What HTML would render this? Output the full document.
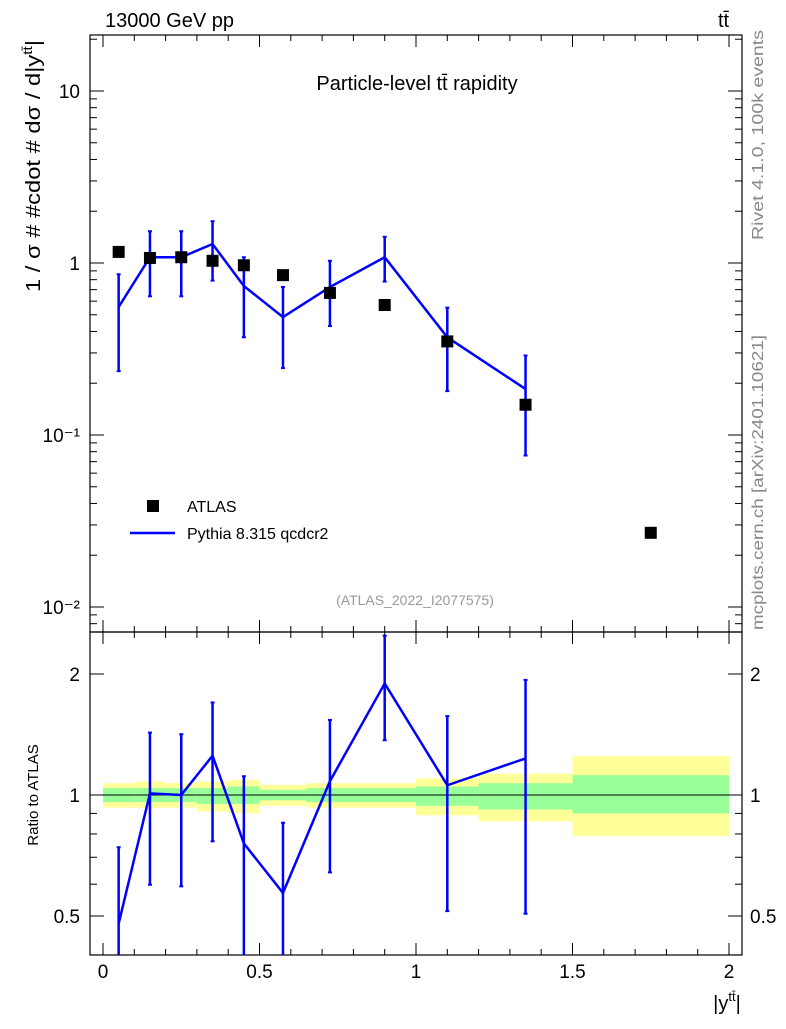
<!DOCTYPE html>
<html><head><meta charset="utf-8"><style>
body{margin:0;background:#fff}
svg{font-family:"Liberation Sans",sans-serif}
</style></head><body>
<svg id="c" width="786" height="1024" xmlns="http://www.w3.org/2000/svg">
<rect width="786" height="1024" fill="#fff"/>
<g id="bands"></g>
<g id="axes"></g>
<g id="marks"></g>
<text x="105" y="27" font-size="20">13000 GeV pp</text>
<text x="718" y="27" font-size="20">tt̄</text>
<text x="417" y="90" font-size="20" text-anchor="middle">Particle-level tt̄ rapidity</text>
<text transform="translate(40,40) rotate(-90)" font-size="20" text-anchor="end" textLength="252" lengthAdjust="spacingAndGlyphs">1 / σ # #cdot # dσ / d|y<tspan font-size="13" dy="-8">tt̄</tspan><tspan dy="8">|</tspan></text>
<text transform="translate(38,795) rotate(-90)" font-size="15" text-anchor="middle">Ratio to ATLAS</text>
<text transform="translate(763,240) rotate(-90)" font-size="16" fill="#888" textLength="210" lengthAdjust="spacingAndGlyphs">Rivet 4.1.0,  100k events</text>
<text transform="translate(763,630) rotate(-90)" font-size="16" fill="#888" textLength="295" lengthAdjust="spacingAndGlyphs">mcplots.cern.ch [arXiv:2401.10621]</text>
<text x="415" y="605" font-size="14" fill="#999" text-anchor="middle">(ATLAS_2022_I2077575)</text>
<rect x="147" y="500" width="12" height="12" fill="#000"/>
<text x="187" y="512" font-size="16">ATLAS</text>
<line x1="130" y1="533" x2="175" y2="533" stroke="#00f" stroke-width="2.5"/>
<text x="187" y="539" font-size="16">Pythia 8.315 qcdcr2</text>
<text x="727" y="1010" font-size="20" text-anchor="middle">|y<tspan font-size="13" dy="-9">tt̄</tspan><tspan dy="9">|</tspan></text>
</svg>
<script>
const centers=[0.05,0.15,0.25,0.35,0.45,0.575,0.725,0.9,1.1,1.35,1.75];
const atlas=[1.16,1.07,1.08,1.03,0.97,0.85,0.67,0.57,0.35,0.15,0.027];
const pyX=[0.05,0.15,0.25,0.35,0.45,0.575,0.725,0.9,1.1,1.35];
const pythia=[0.555,1.08,1.08,1.29,0.735,0.485,0.725,1.08,0.37,0.185];
const pyHi=[0.86,1.53,1.53,1.75,1.08,0.725,1.03,1.42,0.55,0.29];
const pyLo=[0.235,0.64,0.64,0.79,0.37,0.245,0.43,0.78,0.18,0.076];
const binEdges=[0,0.1,0.2,0.3,0.4,0.5,0.65,0.8,1.0,1.2,1.5,2.0];
const yelHi=[1.07,1.08,1.07,1.08,1.09,1.06,1.07,1.07,1.1,1.13,1.25];
const yelLo=[0.93,0.93,0.93,0.91,0.9,0.94,0.93,0.93,0.89,0.86,0.79];
const grnHi=[1.04,1.04,1.04,1.04,1.05,1.03,1.04,1.04,1.05,1.07,1.12];
const grnLo=[0.96,0.96,0.96,0.95,0.95,0.97,0.96,0.96,0.94,0.92,0.9];
const xTicks=[0,0.5,1,1.5,2];
const mainTicks=[0.01,0.1,1,10];
const mainTickLabels=["10⁻²","10⁻¹","1","10"];
const ratioTicks=[0.5,1,2];
const ratioTickLabels=["0.5","1","2"];

const NS="http://www.w3.org/2000/svg";
const X=v=>103+313*v;
const Y=v=>263-172*Math.log10(v);
const R=v=>795-402*Math.log10(v);
const L=90,Rt=742,T=35,M=632,B=955;
function el(p,tag,a){const e=document.createElementNS(NS,tag);for(const k in a)e.setAttribute(k,a[k]);p.appendChild(e);return e;}
const bands=document.getElementById('bands'),axes=document.getElementById('axes'),marks=document.getElementById('marks');
for(let i=0;i<binEdges.length-1;i++){
  const x1=X(binEdges[i]),x2=X(binEdges[i+1]);
  const y=el(bands,'rect',{x:x1,y:R(yelHi[i]),width:x2-x1,height:R(yelLo[i])-R(yelHi[i]),fill:'#ffff99'});
  
  
  const g=el(bands,'rect',{x:x1,y:R(grnHi[i]),width:x2-x1,height:R(grnLo[i])-R(grnHi[i]),fill:'#99ff99'});
  
  
}
el(axes,'line',{x1:L,y1:R(1),x2:Rt,y2:R(1),stroke:'#000','stroke-width':1});
for(const [t,b] of [[T,M],[M,B]]){
  const f=el(axes,'rect',{x:L,y:t,width:Rt-L,height:b-t,fill:'none',stroke:'#000','stroke-width':1.2});
  
  
}
for(let v=0;v<=2.0001;v+=0.1){
  const major=Math.abs(v*2-Math.round(v*2))<1e-6, len=major?12:6;
  for(const [t,b] of [[T,M],[M,B]]){
    el(axes,'line',{x1:X(v),y1:b,x2:X(v),y2:b-len,stroke:'#000'});
    el(axes,'line',{x1:X(v),y1:t,x2:X(v),y2:t+len,stroke:'#000'});
  }
}
xTicks.forEach(v=>{const t=el(axes,'text',{x:X(v),y:978,'font-size':19,'text-anchor':'middle'});t.textContent=String(v);

});
for(let d=-3;d<=1;d++)for(let m=1;m<10;m++){const v=m*Math.pow(10,d),y=Y(v);if(y<T||y>M)continue;const len=m==1?14:7;
el(axes,'line',{x1:L,y1:y,x2:L+len,y2:y,stroke:'#000'});el(axes,'line',{x1:Rt,y1:y,x2:Rt-len,y2:y,stroke:'#000'});}
mainTicks.forEach((v,i)=>{const t=el(axes,'text',{x:80,y:Y(v)+7,'font-size':19,'text-anchor':'end'});t.textContent=mainTickLabels[i];

});
[0.4,0.5,0.6,0.7,0.8,0.9,1,2].forEach(v=>{const y=R(v);if(y<M||y>B)return;const len=(v==0.5||v==1||v==2)?14:7;
el(axes,'line',{x1:L,y1:y,x2:L+len,y2:y,stroke:'#000'});el(axes,'line',{x1:Rt,y1:y,x2:Rt-len,y2:y,stroke:'#000'});});
ratioTicks.forEach((v,i)=>{for(const [x,a] of [[80,'end'],[750,'start']]){const t=el(axes,'text',{x:x,y:R(v)+7,'font-size':19,'text-anchor':a});t.textContent=ratioTickLabels[i];

}});
const line=el(marks,'polyline',{points:pyX.map((x,i)=>X(x)+','+Y(pythia[i])).join(' '),fill:'none',stroke:'#00f','stroke-width':2.5});


pyX.forEach((x,i)=>{const e=el(marks,'line',{x1:X(x),y1:Y(pyHi[i]),x2:X(x),y2:Y(pyLo[i]),stroke:'#00f','stroke-width':2.5});


for(const v of [pyHi[i],pyLo[i]])el(marks,'line',{x1:X(x)-2,y1:Y(v),x2:X(x)+2,y2:Y(v),stroke:'#00f','stroke-width':2});});
centers.forEach((x,i)=>{const r=el(marks,'rect',{x:X(x)-6,y:Y(atlas[i])-6,width:12,height:12,fill:'#000'});

});
const cl=y=>Math.max(M,Math.min(B,y));
const rl=el(marks,'polyline',{points:pyX.map((x,i)=>X(x)+','+cl(R(pythia[i]/atlas[i]))).join(' '),fill:'none',stroke:'#00f','stroke-width':2.5});


pyX.forEach((x,i)=>{const e=el(marks,'line',{x1:X(x),y1:cl(R(pyHi[i]/atlas[i])),x2:X(x),y2:cl(R(pyLo[i]/atlas[i])),stroke:'#00f','stroke-width':2.5});


for(const v of [pyHi[i],pyLo[i]]){const y=R(v/atlas[i]);if(y>M&&y<B)el(marks,'line',{x1:X(x)-2,y1:y,x2:X(x)+2,y2:y,stroke:'#00f','stroke-width':2});}});
</script>
</body></html>
